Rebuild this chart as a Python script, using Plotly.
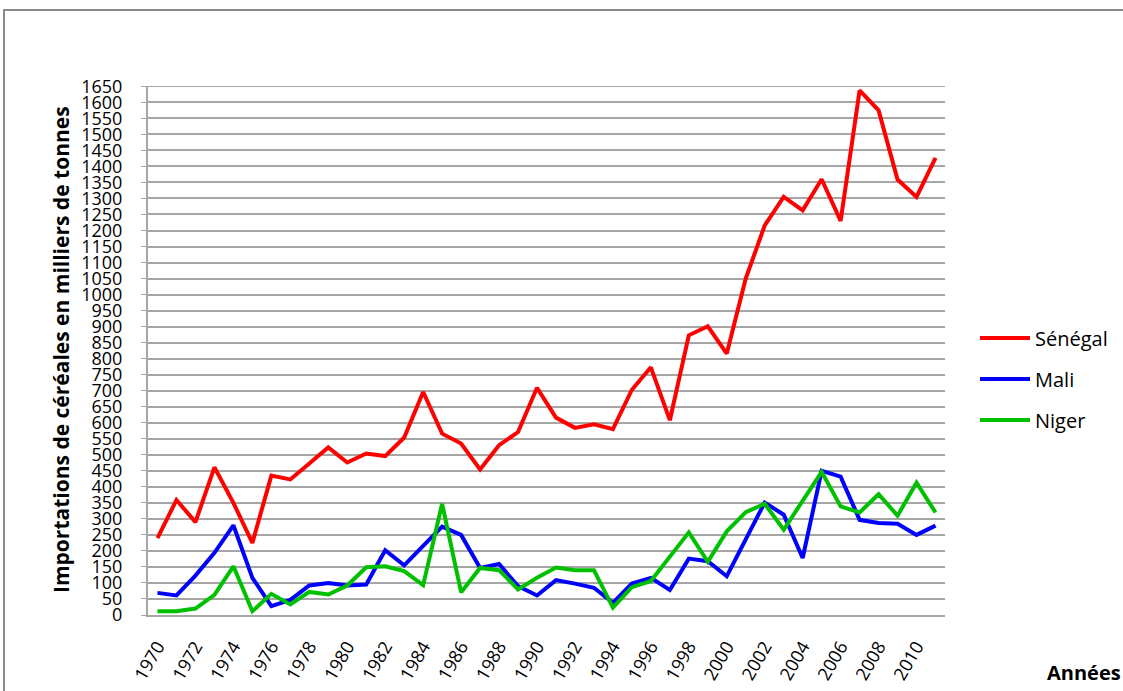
import plotly.graph_objects as go

years = list(range(1970, 2012))
senegal = [240, 359, 290, 461, 350, 225, 435, 423, 473, 523, 476, 504, 496, 554, 696,
           566, 535, 454, 530, 571, 709, 616, 584, 595, 580, 703, 773, 608, 873, 901,
           816, 1050, 1216, 1305, 1263, 1360, 1230, 1637, 1575, 1359, 1305, 1427]
mali = [69, 61, 123, 194, 280, 116, 28, 47, 92, 100, 92, 95, 202, 155, 216,
        276, 250, 147, 159, 90, 61, 109, 98, 85, 38, 98, 116, 78, 176, 168,
        121, 235, 351, 313, 178, 450, 432, 297, 287, 285, 250, 279]
niger = [12, 12, 20, 63, 152, 12, 66, 33, 72, 64, 92, 149, 152, 137, 93,
         347, 71, 147, 140, 80, 116, 148, 140, 140, 23, 87, 106, 183, 258, 166,
         261, 321, 347, 266, 359, 447, 339, 320, 377, 310, 413, 320]
series_names = ["Sénégal", "Mali", "Niger"]
series_colors = ["#ff0000", "#0000ff", "#00c000"]
y_ticks = list(range(0, 1651, 50))
x_ticks = list(range(1970, 2011, 2))

FONT = "Open Sans"

fig = go.Figure()
for name, vals, col in zip(series_names, [senegal, mali, niger], series_colors):
    fig.add_trace(go.Scatter(x=years, y=vals, mode="lines", name=name,
                             legendgroup=name,
                             line=dict(color=col, width=4)))

W, H = 1123, 691
L, R, T, B = 148, 945, 86, 615
pw, ph = R - L, B - T

def px2paper_x(x):
    return (x - L) / pw

def px2paper_y(y):
    return (B - y) / ph

fig.update_layout(
    width=W, height=H,
    margin=dict(l=L, r=W - R, t=T, b=H - B, pad=0, autoexpand=False),
    paper_bgcolor="white", plot_bgcolor="white",
    font=dict(family=FONT, color="#000000"),
    showlegend=True,
    legend=dict(x=px2paper_x(975), y=px2paper_y(379), xanchor="left", yanchor="middle",
                font=dict(size=20, family=FONT), tracegroupgap=12,
                bgcolor="rgba(0,0,0,0)", itemwidth=50),
    xaxis=dict(range=[1969.5, 2011.5], tickvals=x_ticks, ticktext=[str(v) for v in x_ticks],
               tickangle=-60, tickfont=dict(size=18, family=FONT), automargin=False,
               showgrid=False, zeroline=False, showline=True, linecolor="#a6a6a6",
               linewidth=2, ticks="outside", ticklen=12, tickcolor="rgba(0,0,0,0)"),
    yaxis=dict(range=[0, 1651], tickvals=y_ticks, ticktext=[str(v) for v in y_ticks],
               tickfont=dict(size=18, family=FONT), automargin=False,
               showgrid=True, gridcolor="#a6a6a6", gridwidth=1.5,
               zeroline=False, showline=True, linecolor="#a6a6a6", linewidth=2,
               ticks="outside", ticklen=5, tickcolor="#a6a6a6", ticklabelstandoff=15),
)

# top gridline (1650)
fig.add_shape(type="line", xref="paper", yref="y", x0=0, x1=1, y0=1650, y1=1650,
              line=dict(color="#a6a6a6", width=1.5))

# outer chart border
fig.add_shape(type="rect", xref="paper", yref="paper",
              x0=px2paper_x(4), y0=px2paper_y(760), x1=px2paper_x(1250), y1=px2paper_y(10),
              line=dict(color="#8c8c8c", width=2), fillcolor="rgba(0,0,0,0)", layer="below")

fig.add_annotation(text="<b>Importations de céréales en milliers de tonnes</b>",
                   xref="paper", yref="paper", x=px2paper_x(61), y=px2paper_y(350),
                   textangle=-90, showarrow=False, font=dict(size=21, family=FONT),
                   xanchor="center", yanchor="middle")

fig.add_annotation(text="<b>Années</b>", xref="paper", yref="paper",
                   x=px2paper_x(1045), y=px2paper_y(672), xanchor="left", yanchor="middle",
                   showarrow=False, font=dict(size=20, family=FONT))

fig.write_html("out.html", config={"displayModeBar": False},
               post_script="document.body.style.margin='0';document.body.style.overflow='hidden';")
